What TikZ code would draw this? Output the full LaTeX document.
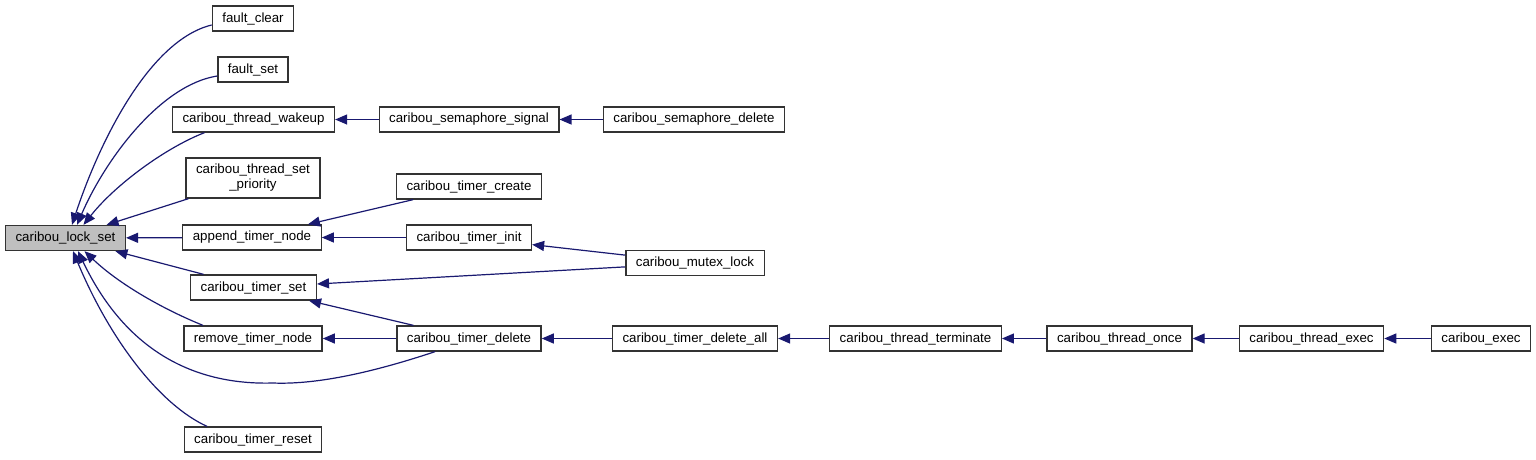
\documentclass[tikz,border=0pt]{standalone}
\usepackage{fontspec}
\setmainfont{Liberation Sans}
\usepackage{xcolor}
\usepackage{tikz}
\usetikzlibrary{arrows.meta}
\definecolor{edgeblue}{HTML}{191970}
\definecolor{boxline}{HTML}{333333}

\begin{document}
\begin{tikzpicture}[
        x=1pt, y=-1pt,
        >={Triangle[length=12pt, width=10pt]},
        func/.style={rectangle, draw=boxline, line width=1.3pt, minimum height=25pt,
            inner xsep=10pt, inner ysep=2pt, font=\fontsize{13.3}{15}\selectfont},
        root/.style={func, fill=black!25},
        call/.style={->, draw=edgeblue, line width=1.2pt}
    ]
        \useasboundingbox (0,0) rectangle (1536,459);

        \node[root] (lock) at (65.5, 238) {caribou\_lock\_set};

        \node[func] (fclear) at (253, 18.5)  {fault\_clear};
        \node[func] (fset)   at (253, 69.5)  {fault\_set};
        \node[func] (wakeup) at (253.5, 119.5) {caribou\_thread\_wakeup};
        \node[func, minimum height=40pt, align=center] (prio) at (253, 178)
            {caribou\_thread\_set\\\_priority};
        \node[func] (append) at (252, 237.5) {append\_timer\_node};
        \node[func] (tset)   at (253.5, 287.5) {caribou\_timer\_set};
        \node[func] (remove) at (253, 338.5) {remove\_timer\_node};
        \node[func] (reset)  at (253, 439.5) {caribou\_timer\_reset};

        \node[func] (semsig)  at (469, 119.5) {caribou\_semaphore\_signal};
        \node[func] (tcreate) at (469, 186.5) {caribou\_timer\_create};
        \node[func] (tinit)   at (469, 237.5) {caribou\_timer\_init};
        \node[func] (tdelete) at (469, 338.5) {caribou\_timer\_delete};

        \node[func] (semdel)  at (694, 119.5) {caribou\_semaphore\_delete};
        \node[func] (mutex)   at (695, 263)   {caribou\_mutex\_lock};
        \node[func] (tdelall) at (695, 338.5) {caribou\_timer\_delete\_all};

        \node[func] (terminate) at (915.5, 338.5) {caribou\_thread\_terminate};
        \node[func] (once)      at (1119.5, 338.5) {caribou\_thread\_once};
        \node[func] (texec)     at (1311.5, 338.5) {caribou\_thread\_exec};
        \node[func] (exec)      at (1481, 338.5) {caribou\_exec};

        % callers of caribou_lock_set
        \draw[call] ([yshift=-6.5pt]fclear.west) .. controls (150,40) and (100,140) .. ([xshift=6.5pt]lock.north);
        \draw[call] ([yshift=-6.5pt]fset.west) .. controls (160,85) and (105,160) .. ([xshift=11.5pt]lock.north);
        \draw[call] ([xshift=-49pt]wakeup.south) .. controls (165,148) and (115,185) .. ([xshift=18pt]lock.north);
        \draw[call] (prio) -- (lock);
        \draw[call] (append) -- (lock);
        \draw[call] (tset) -- (lock);
        \draw[call] ([xshift=-50pt]remove.north) .. controls (165,310) and (120,285) .. ([xshift=19pt]lock.south);
        \draw[call] ([xshift=-34pt]tdelete.south) .. controls (380,370) and (320,385) .. (273,383)
            .. controls (205,385) and (130,360) .. ([xshift=12.5pt]lock.south);
        \draw[call] ([xshift=-46pt]reset.north) .. controls (160,405) and (110,340) .. ([xshift=7.5pt]lock.south);

        % other calls
        \draw[call] (semsig)    -- (wakeup);
        \draw[call] (semdel)    -- (semsig);
        \draw[call] (tcreate)   -- (append);
        \draw[call] (tinit)     -- (append);
        \draw[call] (mutex)     -- (tinit);
        \draw[call] (mutex)     -- (tset);
        \draw[call] (tdelete)   -- (tset);
        \draw[call] (tdelete)   -- (remove);
        \draw[call] (tdelall)   -- (tdelete);
        \draw[call] (terminate) -- (tdelall);
        \draw[call] (once)      -- (terminate);
        \draw[call] (texec)     -- (once);
        \draw[call] (exec)      -- (texec);
    \end{tikzpicture}
\end{document}
